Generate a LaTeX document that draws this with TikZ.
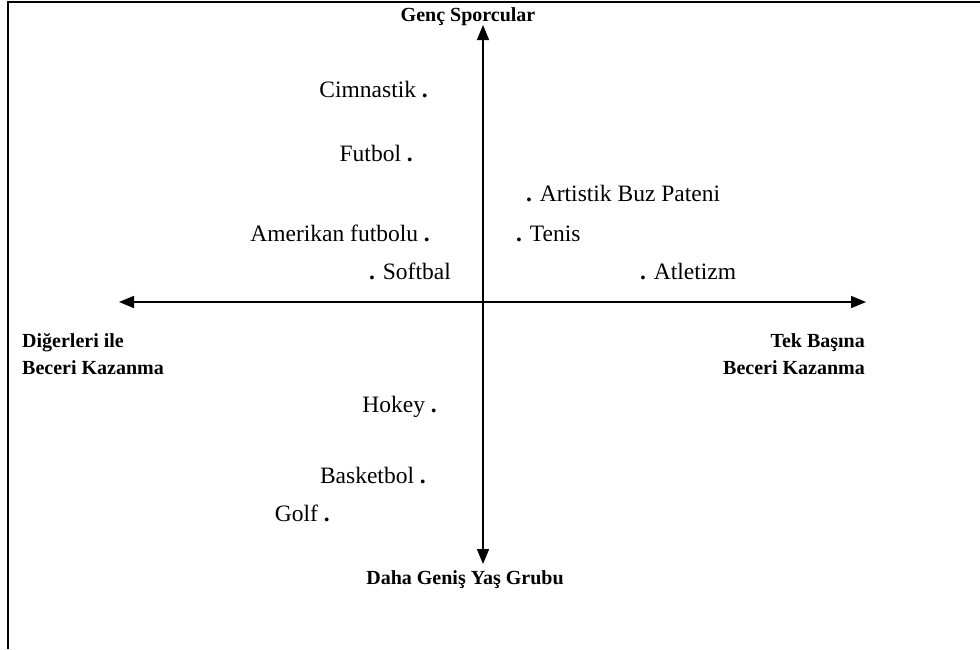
\documentclass[tikz,border=0pt]{standalone}
\usepackage{fontspec}
\setmainfont{Liberation Serif}
\usetikzlibrary{arrows.meta}

\newcommand{\spot}{{\bfseries .}}

\begin{document}
\begin{tikzpicture}[x=1pt, y=-1pt,
    >={Triangle[length=15pt,width=12pt]},
    axis/.style={line width=1.6pt},
    pole/.style={font=\fontsize{20}{27}\selectfont\bfseries, inner sep=0pt},
    sport/.style={font=\fontsize{23.5}{27}\selectfont, inner sep=0pt}]
  \useasboundingbox (0,0) rectangle (980,649);
  \draw[line width=2pt] (8,649) -- (8,2) -- (980,2);

  % axes
  \coordinate (top) at (483,25);
  \coordinate (bottom) at (483,564);
  \coordinate (left) at (119,302);
  \coordinate (right) at (866,302);
  \draw[axis,<->] (bottom) -- (top);
  \draw[axis,<->] (left) -- (right);

  % axis labels
  \node[pole, anchor=base] (genc) at (468,21) {Genç Sporcular};
  \node[pole, anchor=base] (genis) at (465,584) {Daha Geniş Yaş Grubu};
  \node[pole, anchor=base west, align=left] (diger) at (22,374) {Diğerleri ile\\Beceri Kazanma};
  \node[pole, anchor=base east, align=right] (tek) at (865,374) {Tek Başına\\Beceri Kazanma};

  % sports, left side
  \node[sport, anchor=base east] (cimnastik) at (428,97) {Cimnastik \spot};
  \node[sport, anchor=base east] (futbol) at (413,161) {Futbol \spot};
  \node[sport, anchor=base east] (amerikan) at (430,241) {Amerikan futbolu \spot};
  \node[sport, anchor=base west] (softbal) at (369,279) {\spot{} Softbal};
  \node[sport, anchor=base east] (hokey) at (437,412) {Hokey \spot};
  \node[sport, anchor=base east] (basketbol) at (426,483) {Basketbol \spot};
  \node[sport, anchor=base east] (golf) at (330,521) {Golf \spot};

  % sports, right side
  \node[sport, anchor=base west] (artistik) at (526,201) {\spot{} Artistik Buz Pateni};
  \node[sport, anchor=base west] (tenis) at (516,241) {\spot{} Tenis};
  \node[sport, anchor=base west] (atletizm) at (640,279) {\spot{} Atletizm};
\end{tikzpicture}
\end{document}
